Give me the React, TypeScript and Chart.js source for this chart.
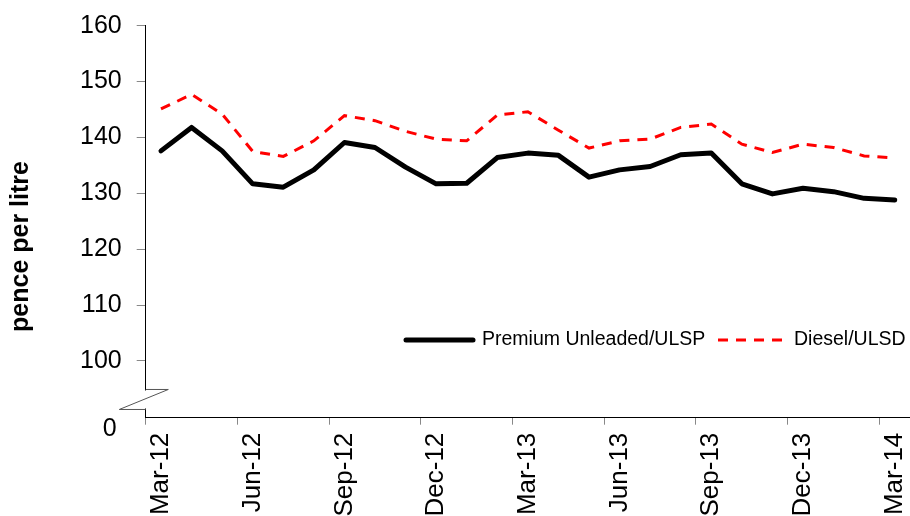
import React, { useEffect, useRef } from "react";
import { Chart, registerables } from "chart.js";

Chart.register(...registerables);

const months = [
  "Mar-12", "Apr-12", "May-12", "Jun-12", "Jul-12", "Aug-12", "Sep-12", "Oct-12", "Nov-12",
  "Dec-12", "Jan-13", "Feb-13", "Mar-13", "Apr-13", "May-13", "Jun-13", "Jul-13", "Aug-13",
  "Sep-13", "Oct-13", "Nov-13", "Dec-13", "Jan-14", "Feb-14", "Mar-14",
];

const premiumUnleaded = [
  137.6, 141.8, 137.6, 131.7, 131.1, 134.2, 139.1, 138.2, 134.7, 131.7, 131.8, 136.4, 137.2,
  136.8, 132.9, 134.2, 134.8, 136.9, 137.2, 131.7, 129.9, 130.9, 130.3, 129.1, 128.8,
];

const diesel = [
  145.1, 147.7, 144.2, 137.5, 136.6, 139.4, 143.9, 143.0, 141.1, 139.7, 139.4, 144.0, 144.6,
  141.3, 138.1, 139.4, 139.7, 141.8, 142.4, 138.8, 137.3, 138.8, 138.2, 136.7, 136.3,
];

const yTicks = [100, 110, 120, 130, 140, 150, 160];
const yMin = 89.85;
const yMax = 160;
const zeroLabel = "0";
const yTitle = "pence per litre";
const seriesNames = ["Premium Unleaded/ULSP", "Diesel/ULSD"];

const FONT = "'Liberation Sans', Arial, Helvetica, sans-serif";

const decorPlugin = {
  id: "decor",
  afterDraw(chart: any) {
    const ctx = chart.ctx;
    const area = chart.chartArea;
    const yScale = chart.scales.y;
    const x0 = area.left;
    ctx.save();
    // axis break
    const yb1 = yScale.getPixelForValue(94.9);
    const yb2 = yb1 + 20;
    ctx.fillStyle = "#ffffff";
    ctx.fillRect(x0 - 2, yb1 + 1, 4, yb2 - yb1 - 2);
    ctx.strokeStyle = "#555555";
    ctx.lineWidth = 1;
    ctx.beginPath();
    ctx.moveTo(x0, yb1);
    ctx.lineTo(x0 + 22.6, yb1);
    ctx.lineTo(x0 - 26.4, yb2);
    ctx.lineTo(x0, yb2);
    ctx.stroke();

    // zero label
    ctx.fillStyle = "#000";
    ctx.font = `25px ${FONT}`;
    ctx.textAlign = "right";
    ctx.textBaseline = "middle";
    ctx.fillText(zeroLabel, x0 - 29, area.bottom + 11.8);

    // y title
    ctx.save();
    ctx.translate(21.5, 246.5);
    ctx.rotate(-Math.PI / 2);
    ctx.font = `bold 25px ${FONT}`;
    ctx.textAlign = "center";
    ctx.textBaseline = "middle";
    ctx.fillText(yTitle, 0, 0);
    ctx.restore();

    // legend
    const ly = 340;
    ctx.font = `19.5px ${FONT}`;
    ctx.textAlign = "left";
    ctx.textBaseline = "middle";
    ctx.lineCap = "round";
    ctx.strokeStyle = "#000";
    ctx.lineWidth = 5;
    ctx.beginPath();
    ctx.moveTo(406, ly);
    ctx.lineTo(473, ly);
    ctx.stroke();
    ctx.fillStyle = "#000";
    ctx.fillText(seriesNames[0], 482, ly);
    ctx.lineCap = "butt";
    ctx.strokeStyle = "#ff0000";
    ctx.lineWidth = 3;
    ctx.setLineDash([10, 8]);
    ctx.beginPath();
    ctx.moveTo(718, ly);
    ctx.lineTo(782, ly);
    ctx.stroke();
    ctx.setLineDash([]);
    ctx.fillText(seriesNames[1], 794, ly);
    ctx.restore();
  },
};

export default function App() {
  const ref = useRef<HTMLCanvasElement>(null);
  useEffect(() => {
    if (!ref.current) return;
    const chart = new Chart(ref.current, {
      type: "line",
      data: {
        labels: months,
        datasets: [
          {
            label: seriesNames[0],
            data: premiumUnleaded,
            borderColor: "#000000",
            backgroundColor: "#000000",
            borderWidth: 5,
            pointRadius: 0,
            tension: 0,
            borderJoinStyle: "round",
            borderCapStyle: "round",
          },
          {
            label: seriesNames[1],
            data: diesel,
            borderColor: "#ff0000",
            backgroundColor: "#ff0000",
            borderWidth: 3,
            borderDash: [10, 8],
            pointRadius: 0,
            tension: 0,
          },
        ],
      },
      options: {
        responsive: false,
        animation: false,
        devicePixelRatio: 1,
        layout: { padding: { top: 25.7, right: 0, left: 0, bottom: 0 } },
        plugins: {
          legend: { display: false },
          tooltip: { enabled: false },
        },
        scales: {
          x: {
            type: "category",
            offset: true,
            grid: {
              offset: true,
              drawOnChartArea: false,
              drawTicks: true,
              tickLength: 7,
              color: (c: any) =>
                typeof c.index === "number" && c.index % 3 === 0 && c.index < months.length
                  ? "#888888"
                  : "rgba(0,0,0,0)",
            },
            border: { color: "#000000", width: 1 },
            ticks: {
              autoSkip: false,
              minRotation: 90,
              maxRotation: 90,
              padding: 8,
              color: "#000",
              font: { family: FONT, size: 26 },
              callback: (_v: any, i: number) => (i % 3 === 0 ? months[i] : ""),
            },
            afterFit: (scale: any) => {
              scale.height = 98.3;
              scale.paddingRight = 0;
              scale.paddingLeft = 0;
            },
          },
          y: {
            type: "linear",
            min: yMin,
            max: yMax,
            afterBuildTicks: (scale: any) => {
              scale.ticks = yTicks.map((v) => ({ value: v }));
            },
            grid: {
              drawOnChartArea: false,
              drawTicks: true,
              tickLength: 9,
              color: "#888888",
            },
            border: { color: "#000000", width: 1 },
            ticks: {
              padding: 15,
              color: "#000",
              font: { family: FONT, size: 25 },
            },
            afterFit: (scale: any) => {
              scale.width = 145.7;
              scale.paddingTop = 0;
              scale.paddingBottom = 0;
            },
          },
        },
      },
      plugins: [decorPlugin],
    });
    return () => chart.destroy();
  }, []);
  return (
    <div style={{ position: "absolute", left: 0, top: 0, width: 910, height: 516, background: "#fff" }}>
      <canvas ref={ref} width={910} height={516} />
    </div>
  );
}
